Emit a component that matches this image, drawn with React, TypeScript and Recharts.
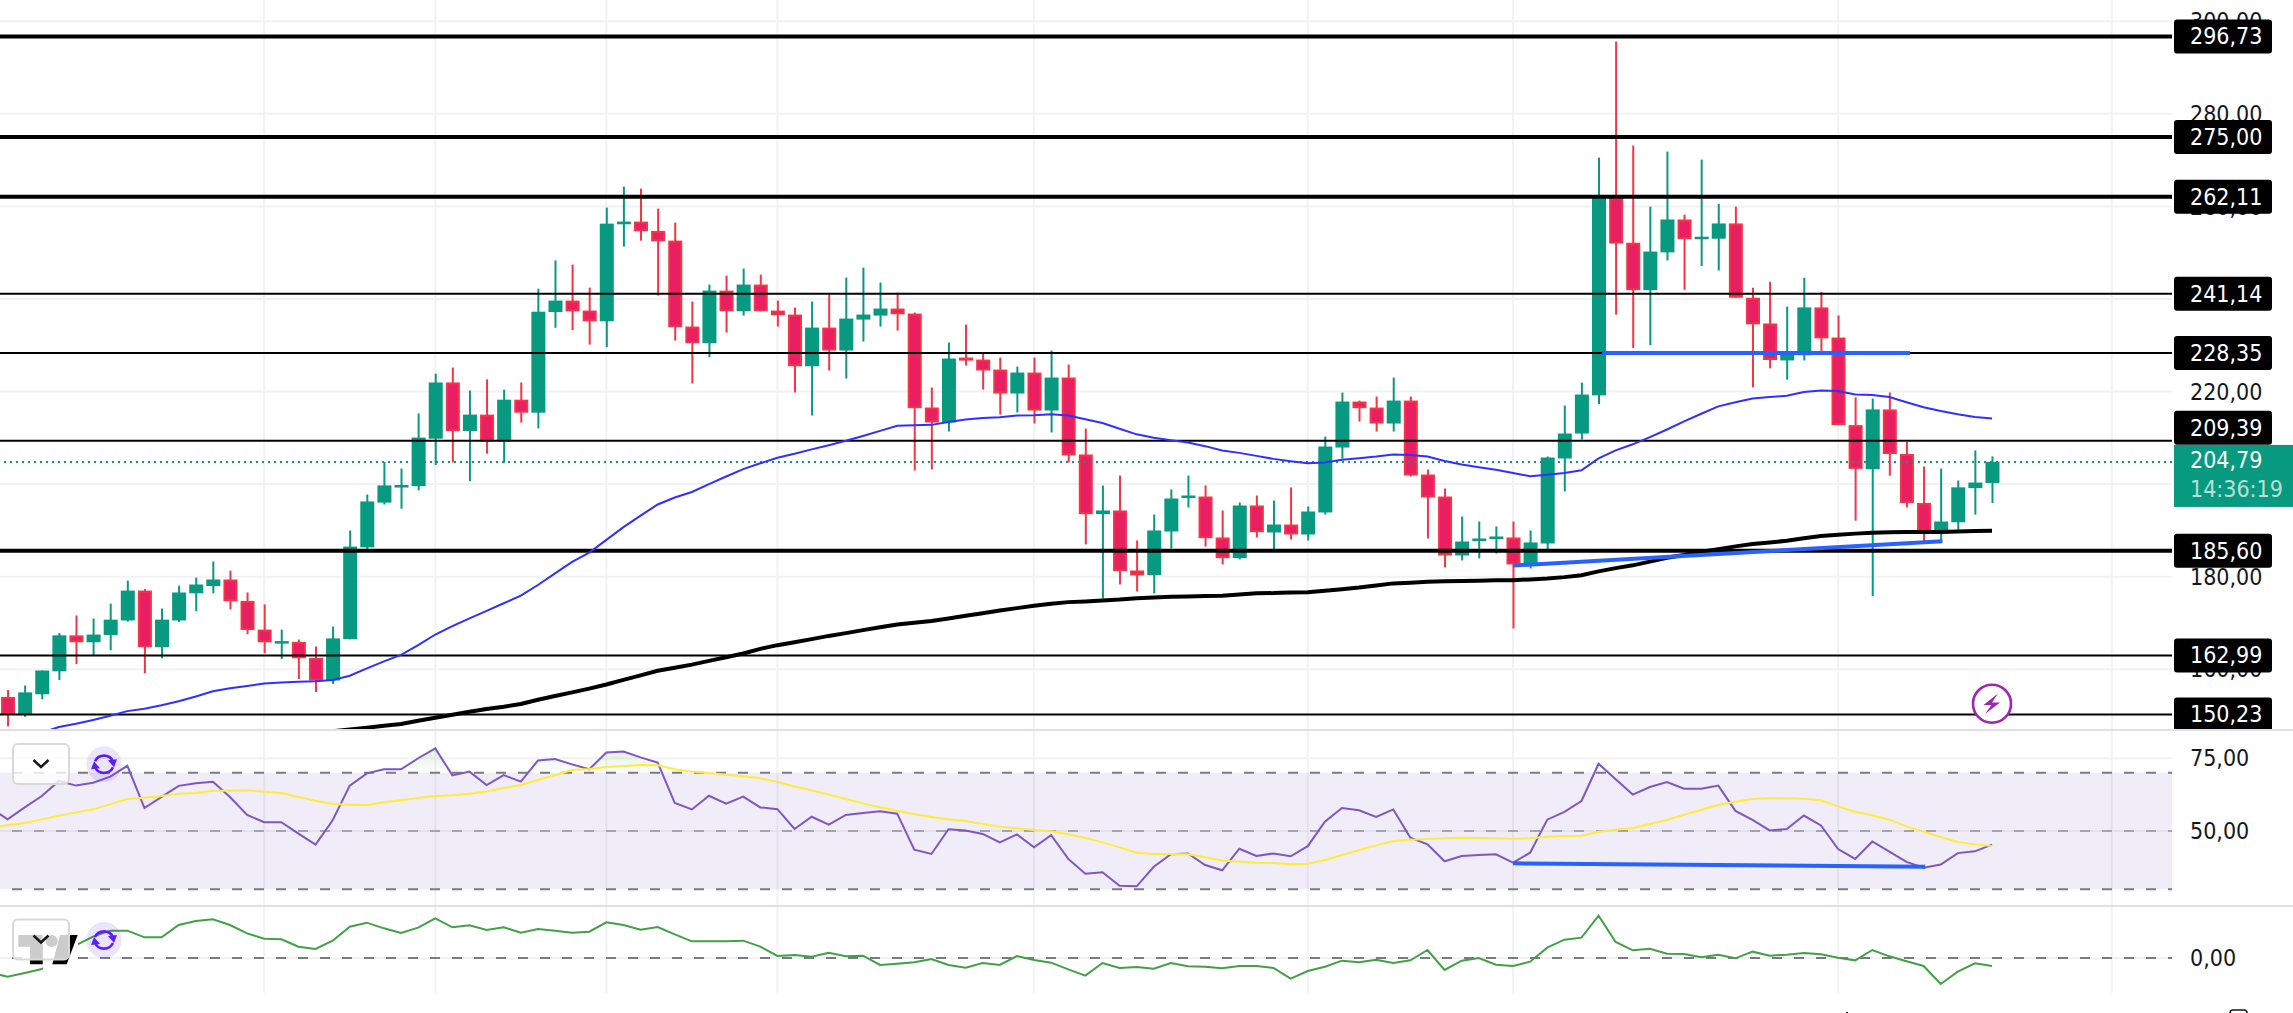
import React from 'react';
import {
  Area,
  Bar,
  CartesianGrid,
  ComposedChart,
  Line,
  ReferenceArea,
  ReferenceLine,
  XAxis,
  YAxis,
} from 'recharts';

const open = [
  154.01, 150.29, 154.59, 159.55, 167.32, 165.83, 167.4, 170.54, 176.99, 164.76, 170.54, 176.41, 177.98, 179.39, 174.76, 168.56, 165.91, 165.91, 162.44, 157.56,
  166.49, 186.33, 196.0, 199.56, 199.56, 209.81, 221.96, 211.46, 215.01, 209.23, 218.24, 215.43, 237.17, 239.65, 237.5, 235.19, 256.14, 256.72, 254.7, 252.61,
  234.04, 230.44, 241.81, 237.35, 243.11, 237.49, 236.63, 225.47, 233.82, 228.86, 235.55, 236.41, 237.93, 236.85, 216.55, 213.31, 227.34, 226.91, 224.75, 219.57,
  224.1, 215.9, 223.03, 206.4, 193.51, 194.3, 181.34, 180.33, 189.76, 197.11, 197.32, 188.47, 184.0, 195.38, 189.55, 191.27, 189.11, 193.87, 207.9, 217.84,
  216.54, 213.09, 218.05, 202.07, 197.32, 184.58, 187.89, 188.32, 188.47, 182.64, 187.17, 205.53, 210.93, 219.17, 261.87, 252.15, 241.91, 250.07, 257.18, 253.1,
  253.02, 256.32, 240.26, 234.71, 226.72, 227.85, 238.18, 231.67, 212.75, 203.21, 216.14, 206.5, 195.92, 189.32, 191.75, 199.13, 200.25,
];
const high = [
  155.5, 156.49, 159.72, 167.82, 171.62, 170.96, 174.18, 179.14, 177.32, 173.11, 178.07, 179.8, 183.27, 181.29, 176.58, 174.01, 168.56, 166.41, 164.92, 169.22,
  189.97, 197.74, 204.77, 203.36, 215.26, 223.86, 225.18, 220.22, 222.62, 220.39, 221.96, 242.21, 248.33, 247.42, 242.46, 259.74, 264.27, 263.84, 259.52, 256.5,
  239.44, 243.11, 245.05, 246.57, 245.27, 239.65, 238.14, 239.44, 240.95, 244.62, 246.78, 243.54, 241.38, 237.06, 220.87, 230.58, 234.47, 228.42, 227.34, 225.4,
  227.34, 228.86, 225.83, 212.01, 199.7, 201.86, 187.82, 193.43, 198.83, 201.86, 199.7, 194.3, 196.03, 197.54, 196.46, 199.27, 195.16, 210.28, 219.78, 218.05,
  218.92, 223.02, 218.92, 203.15, 199.05, 193.0, 191.92, 190.84, 191.92, 189.98, 205.96, 216.97, 221.94, 270.55, 295.63, 273.15, 259.96, 271.85, 258.22, 270.11,
  260.57, 259.96, 242.43, 243.73, 238.35, 244.6, 241.56, 236.44, 218.74, 218.48, 219.78, 209.11, 203.81, 203.38, 200.78, 207.28, 205.98,
];
const low = [
  147.65, 149.71, 153.52, 157.65, 161.12, 163.02, 164.1, 170.29, 159.14, 162.36, 170.21, 172.53, 176.41, 172.94, 167.57, 163.43, 162.19, 157.89, 155.08, 156.82,
  166.49, 185.75, 195.59, 194.68, 198.65, 204.1, 204.68, 200.63, 206.58, 204.6, 213.28, 212.04, 233.78, 233.28, 230.14, 229.58, 251.32, 252.61, 240.73, 231.02,
  221.73, 227.42, 232.74, 236.41, 237.35, 234.04, 219.79, 214.82, 224.54, 222.81, 230.8, 234.04, 233.17, 202.94, 203.16, 211.36, 225.62, 220.43, 215.03, 215.47,
  213.09, 211.15, 204.67, 186.96, 175.29, 178.32, 176.81, 176.37, 186.09, 194.95, 186.52, 182.64, 183.72, 188.47, 185.87, 188.03, 187.82, 193.43, 205.53, 213.52,
  211.36, 211.36, 201.64, 188.25, 181.99, 183.5, 183.93, 185.01, 168.81, 181.77, 185.66, 198.4, 209.63, 217.27, 236.62, 229.41, 230.02, 248.33, 242.0, 247.12,
  246.16, 240.26, 220.91, 225.01, 222.56, 226.72, 228.2, 212.75, 192.1, 175.79, 201.82, 194.96, 187.5, 187.76, 189.84, 193.4, 195.92,
];
const close = [
  150.29, 155.0, 159.72, 167.32, 165.83, 167.49, 170.71, 176.99, 164.76, 170.71, 176.58, 178.31, 179.39, 174.68, 168.48, 165.83, 166.08, 162.36, 157.56, 166.66,
  186.5, 196.25, 199.72, 199.8, 210.05, 221.96, 211.46, 215.01, 209.23, 218.24, 215.43, 237.25, 239.65, 237.33, 235.18, 256.28, 256.72, 254.63, 252.47, 233.89,
  230.44, 241.81, 237.35, 243.11, 237.35, 236.49, 225.47, 233.82, 228.86, 235.77, 236.63, 237.93, 236.7, 216.4, 213.31, 227.13, 226.91, 224.54, 219.57, 224.1,
  215.9, 223.03, 206.18, 193.51, 194.3, 181.2, 180.26, 189.98, 196.89, 197.54, 188.32, 184.0, 195.38, 189.62, 191.27, 189.11, 194.08, 208.12, 217.84, 216.4,
  213.09, 218.05, 201.86, 197.11, 184.58, 187.6, 188.25, 188.68, 182.64, 187.39, 205.75, 210.93, 219.35, 261.96, 251.98, 241.91, 250.24, 257.18, 252.93, 253.45,
  256.32, 240.26, 234.53, 226.81, 228.11, 238.18, 231.5, 212.75, 203.29, 216.14, 206.5, 195.92, 189.41, 191.92, 199.3, 200.34, 204.79,
];

const ma50 = [
  null, null, 146.3, 147.5, 148.2, 149.05, 149.96, 150.95, 151.45, 152.2, 153.1, 154.1, 155.25, 155.9, 156.4, 156.9, 157.15, 157.3, 157.4, 157.65,
  158.6, 160.2, 161.7, 163.1, 165.2, 167.5, 169.3, 171.0, 172.6, 174.25, 175.9, 178.2, 180.7, 183.2, 185.2, 187.95, 190.7, 193.2, 195.6, 197.1,
  198.3, 200.0, 201.65, 203.25, 204.5, 205.7, 206.55, 207.5, 208.4, 209.35, 210.4, 211.5, 212.6, 212.7, 212.8, 213.4, 213.95, 214.3, 214.45, 214.8,
  214.9, 215.1, 214.8, 214.0, 213.2, 211.95, 210.75, 210.0, 209.5, 209.0, 208.2, 207.25, 206.75, 206.1, 205.45, 204.95, 204.5, 204.65, 205.25, 205.6,
  205.95, 206.4, 206.3, 205.95, 205.0, 204.25, 203.65, 203.1, 202.4, 201.7, 202.0, 202.4, 203.0, 205.55, 207.3, 208.6, 210.15, 211.8, 213.55, 215.2,
  216.8, 217.7, 218.5, 218.8, 219.1, 219.9, 220.2, 220.1, 219.35, 219.25, 218.8, 217.7, 216.6, 215.8, 215.1, 214.5, 214.15,
];
const ma200 = [
  null, null, null, null, null, null, null, null, null, null, null, null, null, null, null, null, null, null, null, 146.6,
  147.0, 147.36, 147.8, 148.15, 148.87, 149.5, 150.16, 150.8, 151.4, 151.9, 152.5, 153.4, 154.2, 155.0, 155.8, 156.7, 157.7, 158.66, 159.67, 160.3,
  161.0, 161.8, 162.6, 163.4, 164.4, 165.2, 165.85, 166.5, 167.2, 167.8, 168.45, 169.05, 169.65, 170.05, 170.4, 170.95, 171.55, 172.1, 172.7, 173.2,
  173.7, 174.15, 174.5, 174.65, 174.85, 175.05, 175.35, 175.5, 175.65, 175.7, 175.8, 175.9, 176.15, 176.4, 176.45, 176.6, 176.65, 176.95, 177.3, 177.65,
  178.1, 178.55, 178.7, 178.9, 179.0, 179.05, 179.1, 179.2, 179.25, 179.4, 179.6, 179.9, 180.3, 181.15, 181.85, 182.45, 183.25, 184.1, 184.7, 185.4,
  185.95, 186.55, 187.05, 187.4, 187.75, 188.3, 188.8, 189.05, 189.3, 189.5, 189.6, 189.65, 189.65, 189.65, 189.75, 189.85, 189.9,
];

const rsi = [
  54.0, 58.1, 62.0, 67.2, 65.6, 66.6, 68.7, 72.4, 57.9, 61.7, 65.5, 66.4, 66.95, 61.7, 55.5, 53.0, 53.0, 49.1, 45.3, 53.7,
  65.6, 69.8, 71.2, 71.2, 75.0, 78.4, 69.1, 70.4, 65.8, 69.2, 66.95, 74.2, 74.7, 72.9, 71.2, 77.0, 77.3, 75.3, 73.5, 59.6,
  57.4, 62.1, 59.4, 61.8, 58.1, 57.5, 50.7, 54.9, 52.2, 55.5, 56.2, 56.75, 55.95, 43.6, 42.1, 50.6, 50.2, 49.0, 46.1, 48.85,
  44.4, 48.6, 40.4, 35.3, 35.8, 31.2, 31.0, 37.7, 42.0, 42.3, 38.3, 36.5, 43.9, 41.4, 42.3, 41.3, 44.8, 53.2, 57.9, 57.1,
  54.8, 57.4, 47.7, 45.4, 39.6, 41.4, 41.75, 42.0, 39.1, 42.55, 53.9, 56.6, 60.3, 73.1, 67.75, 62.5, 65.1, 66.8, 64.5, 64.5,
  65.6, 56.9, 53.8, 50.2, 50.7, 55.3, 51.9, 43.8, 40.4, 46.4, 42.9, 39.4, 37.4, 38.5, 42.4, 43.0, 45.3,
];
const rsiMa = [
  51.94, 52.74, 54.0, 55.26, 56.4, 57.44, 59.16, 61.0, 61.45, 62.0, 62.8, 63.05, 63.85, 63.85, 63.97, 63.5, 63.05, 61.7, 60.4, 59.27,
  59.04, 58.93, 59.85, 60.53, 61.3, 62.0, 62.25, 62.8, 63.6, 64.77, 65.8, 67.5, 69.24, 70.96, 71.3, 72.0, 72.33, 72.68, 72.56, 71.2,
  70.4, 69.93, 69.35, 68.8, 68.1, 66.95, 65.3, 63.97, 62.5, 61.0, 59.5, 58.13, 56.98, 55.72, 54.8, 54.0, 53.43, 52.4, 51.5, 50.9,
  50.34, 49.88, 48.85, 47.59, 46.1, 44.38, 42.55, 42.09, 42.09, 41.98, 40.95, 39.9, 39.45, 39.1, 39.0, 38.54, 38.77, 40.03, 41.75, 43.46,
  45.07, 46.56, 47.02, 47.25, 47.48, 47.7, 47.59, 47.48, 47.36, 47.48, 48.05, 48.28, 48.39, 49.77, 50.45, 51.03, 52.4, 53.8, 55.6, 57.3,
  58.93, 60.07, 61.0, 61.33, 61.22, 61.1, 60.53, 58.47, 56.64, 55.38, 53.89, 51.6, 49.77, 47.93, 46.2, 45.4, 44.84,
];
const oscillator = [
  -0.56, -0.45, -0.33, -0.01, 0.39, 0.64, 0.82, 0.82, 0.62, 0.62, 0.99, 1.11, 1.16, 0.99, 0.74, 0.58, 0.56, 0.34, 0.27, 0.52,
  0.94, 1.06, 0.89, 0.75, 0.91, 1.19, 0.92, 0.98, 0.84, 0.92, 0.76, 0.87, 0.82, 0.76, 0.79, 1.07, 0.99, 0.85, 0.93, 0.71,
  0.5, 0.5, 0.5, 0.52, 0.34, 0.06, 0.09, 0.04, 0.16, 0.05, 0.07, -0.21, -0.17, -0.13, -0.03, -0.21, -0.29, -0.15, -0.21, 0.06,
  -0.06, -0.14, -0.34, -0.53, -0.15, -0.3, -0.27, -0.32, -0.15, -0.25, -0.26, -0.31, -0.24, -0.24, -0.3, -0.62, -0.39, -0.26, -0.08, -0.13,
  -0.05, -0.15, -0.07, 0.24, -0.36, -0.08, 0.0, -0.2, -0.24, -0.11, 0.31, 0.55, 0.61, 1.27, 0.48, 0.23, 0.28, 0.13, 0.12, 0.02,
  0.1, -0.01, 0.19, 0.07, 0.1, 0.15, 0.11, 0.01, -0.07, 0.24, 0.05, -0.1, -0.24, -0.78, -0.41, -0.16, -0.24,
];

// one value left of the first candle, so the lower lines run off the page edge
const leadIn = { i: -1, rsi: 57.9, rsiMa: 51.25, oscillator: -0.44, hot: [70, 70] };

const thickLevels = [296.73, 275, 262.11, 185.6];
const thinLevels = [241.14, 228.35, 209.39, 162.99, 150.23];
const lastPrice = 204.79;
const countdown = '14:36:19';

const priceTicks = [160, 180, 200, 220, 240, 260, 280, 300];
const rsiTicks = [50, 75];
const rsiDashes = [70, 50, 30];
const oscillatorTicks = [0];
const gridCandles = [15, 25, 35, 45, 60, 76, 88, 107, 123];

const priceTrends = [
  [{ i: 93.2, v: 228.35 }, { i: 111.2, v: 228.35 }],
  [{ i: 88, v: 182.4 }, { i: 113.1, v: 187.67 }],
];
const rsiTrend = [{ i: 88, v: 38.9 }, { i: 112.1, v: 37.73 }];

const rows = open.map((o, i) => ({
  i,
  open: o,
  high: high[i],
  low: low[i],
  close: close[i],
  range: [low[i], high[i]],
  ma50: ma50[i],
  ma200: ma200[i],
  rsi: rsi[i],
  rsiMa: rsiMa[i],
  oscillator: oscillator[i],
  hot: [70, Math.max(70, rsi[i])],
}));
const paneRows = [leadIn, ...rows];

const WIDTH = 2293;
const AXIS_WIDTH = 121;
const FONT = '"DejaVu Sans", sans-serif';
const FONT_SIZE = 23;
const GREEN = '#089981';
const RED_BODY = '#e91e63';
const RED = '#f23645';
const GRID = '#f1f2f5';
const xDomain = [-0.4443, 126.52];
const priceDomain = [146.87, 304.6];

const money = (v: number) => v.toFixed(2).replace('.', ',');

const Candle = (props: any) => {
  const { x, y, width, height, payload } = props;
  if (!payload || !payload.range) return null;
  const up = payload.close >= payload.open;
  const perUnit = height / (payload.high - payload.low);
  const top = y + (payload.high - Math.max(payload.open, payload.close)) * perUnit;
  const bodyH = Math.max(Math.abs(payload.close - payload.open) * perUnit, 2.5);
  const cx = x + width / 2;
  return (
    <g>
      <rect x={cx - 1} y={y} width={2} height={height} fill={up ? GREEN : RED} />
      {up ? (
        <rect x={x} y={top} width={width} height={bodyH} fill={GREEN} />
      ) : (
        <rect x={x + 1} y={top + 1} width={width - 2} height={Math.max(bodyH - 2, 1)} fill={RED_BODY} stroke={RED} strokeWidth={2} />
      )}
    </g>
  );
};

const labelStyle = { fontStretch: 'condensed' } as React.CSSProperties;

const LevelTag = ({ viewBox, value, shift = 0 }: any) => {
  const right = viewBox.x + viewBox.width;
  const cy = viewBox.y + shift;
  return (
    <g>
      <rect x={right + 2} y={cy - 17} width={98} height={34} rx={3} fill="#000" />
      <text x={right + 18} y={cy + 8} fill="#fff" fontFamily={FONT} fontSize={FONT_SIZE} style={labelStyle}>
        {money(value)}
      </text>
    </g>
  );
};

const LastPriceTag = ({ viewBox }: any) => {
  const right = viewBox.x + viewBox.width;
  const cy = viewBox.y;
  return (
    <g>
      <rect x={right + 2} y={cy - 17} width={119} height={62} fill={GREEN} />
      <text x={right + 18} y={cy + 6} fill="#fff" fontFamily={FONT} fontSize={FONT_SIZE} style={labelStyle}>
        {money(lastPrice)}
      </text>
      <text x={right + 18} y={cy + 35} fill="#b5e0d6" fontFamily={FONT} fontSize={FONT_SIZE} style={labelStyle}>
        {countdown}
      </text>
    </g>
  );
};

const axisTick = { fill: '#131722', fontFamily: FONT, fontSize: FONT_SIZE, style: labelStyle };

const SyncIcon = ({ cy }: { cy: number }) => (
  <g transform={`translate(104 ${cy})`}>
    <ellipse rx={17.5} ry={18} fill="#5b1fff" fillOpacity={0.12} />
    <path d="M-9 -3 A10 10 0 0 1 9 -3" fill="none" stroke="#5b1fff" strokeWidth={2.6} />
    <path d="M9 3 A10 10 0 0 1 -9 3" fill="none" stroke="#5b1fff" strokeWidth={2.6} />
    <path d="M4 -4 L13 -5 L10 3 Z" fill="#5b1fff" />
    <path d="M-4 4 L-13 5 L-10 -3 Z" fill="#5b1fff" />
  </g>
);

const Chevron = ({ top }: { top: number }) => (
  <g>
    <rect x={13} y={top} width={56} height={40} rx={5} fill="rgba(255,255,255,0.8)" stroke="#d9d9d9" strokeWidth={2} />
    <path d={`M33.5 ${top + 16} L41 ${top + 23} L48.5 ${top + 16}`} fill="none" stroke="#131722" strokeWidth={2.5} />
  </g>
);

const Overlay = () => (
  <svg width={WIDTH} height={1013} style={{ position: 'absolute', left: 0, top: 0, pointerEvents: 'none' }}>
    <rect x={0} y={729} width={WIDTH} height={2} fill="#e0e0ec" />
    <rect x={0} y={905} width={WIDTH} height={2} fill="#e0e0ec" />

    <rect x={43} y={932} width={35} height={38} fill="#fff" />
    <path d="M18.3 935 H42.7 V964.3 H30 V946.7 H18.3 Z" fill="#000" />
    <circle cx={51.7} cy={941} r={6} fill="#000" />
    <path d="M60 935 H77.7 L66.7 964.3 H52.3 Z" fill="#000" />

    <Chevron top={744} />
    <Chevron top={919.5} />
    <SyncIcon cy={764.3} />
    <SyncIcon cy={940} />

    <circle cx={1992} cy={703.7} r={19} fill="#fff" stroke="#9c27b0" strokeWidth={2.6} />
    <path d="M1998 693.5 L1983.5 705 L1991.5 705 L1985 714 L2000 702.5 L1992 702.5 Z" fill="#9c27b0" />

    <rect x={2230} y={1010} width={17} height={8} rx={3} fill="none" stroke="#131722" strokeWidth={1.5} />
    <rect x={1846} y={1012} width={2} height={1} fill="#131722" />
  </svg>
);

export default function App() {
  return (
    <div style={{ position: 'absolute', left: 0, top: 0, width: WIDTH, height: 1013, background: '#fff', overflow: 'hidden' }}>
      <div style={{ position: 'absolute', left: 0, top: 0 }}>
        <ComposedChart width={WIDTH} height={730} data={rows} margin={{ top: 0, right: 0, bottom: 0, left: 0 }}>
          <CartesianGrid stroke={GRID} strokeWidth={2} horizontalValues={priceTicks} verticalValues={gridCandles} />
          <XAxis dataKey="i" type="number" domain={xDomain} allowDataOverflow hide />
          <YAxis
            orientation="right"
            width={AXIS_WIDTH}
            domain={priceDomain}
            allowDataOverflow
            ticks={priceTicks}
            interval={0}
            tickFormatter={money}
            tick={axisTick}
            tickSize={0}
            tickMargin={18}
            axisLine={false}
          />
          {thickLevels.map((v) => (
            <ReferenceLine key={v} y={v} stroke="#000" strokeWidth={4} />
          ))}
          {thinLevels.map((v) => (
            <ReferenceLine key={v} y={v} stroke="#000" strokeWidth={2} />
          ))}
          <ReferenceLine y={lastPrice} stroke={GREEN} strokeWidth={2} strokeDasharray="2 4" />
          <Line dataKey="ma50" stroke="#3030ff" strokeWidth={2} dot={false} activeDot={false} isAnimationActive={false} />
          <Line dataKey="ma200" stroke="#000" strokeWidth={4} dot={false} activeDot={false} isAnimationActive={false} />
          {priceTrends.map((t) => (
            <ReferenceLine
              key={t[0].i}
              segment={[{ x: t[0].i, y: t[0].v }, { x: t[1].i, y: t[1].v }]}
              stroke="#2962ff"
              strokeWidth={4}
            />
          ))}
          <Bar dataKey="range" barSize={14} shape={Candle} isAnimationActive={false} />
        </ComposedChart>
      </div>

      {/* the price tags sit in their own chart so they cover the axis labels, as in the terminal */}
      <div style={{ position: 'absolute', left: 0, top: 0 }}>
        <ComposedChart width={WIDTH} height={730} data={rows} margin={{ top: 0, right: AXIS_WIDTH, bottom: 0, left: 0 }}>
          <XAxis dataKey="i" type="number" domain={xDomain} allowDataOverflow hide />
          <YAxis domain={priceDomain} allowDataOverflow hide />
          {thickLevels.map((v) => (
            <ReferenceLine key={v} y={v} stroke="none" label={<LevelTag value={v} />} />
          ))}
          {thinLevels.map((v) => (
            <ReferenceLine key={v} y={v} stroke="none" label={<LevelTag value={v} shift={v === 209.39 ? -13 : 0} />} />
          ))}
          <ReferenceLine y={lastPrice} stroke="none" label={<LastPriceTag />} />
        </ComposedChart>
      </div>

      <div style={{ position: 'absolute', left: 0, top: 731 }}>
        <ComposedChart width={WIDTH} height={174} data={paneRows} margin={{ top: 0, right: 0, bottom: 0, left: 0 }}>
          <defs>
            <linearGradient id="hotFill" x1="0" y1="0" x2="0" y2="1">
              <stop offset="0%" stopColor="#4caf50" stopOpacity={0.28} />
              <stop offset="100%" stopColor="#4caf50" stopOpacity={0.02} />
            </linearGradient>
          </defs>
          <CartesianGrid stroke={GRID} strokeWidth={2} horizontalValues={rsiTicks} verticalValues={gridCandles} />
          <XAxis dataKey="i" type="number" domain={xDomain} allowDataOverflow hide />
          <YAxis
            orientation="right"
            width={AXIS_WIDTH}
            domain={[24.57, 84.36]}
            allowDataOverflow
            ticks={rsiTicks}
            interval={0}
            tickFormatter={money}
            tick={axisTick}
            tickSize={0}
            tickMargin={18}
            axisLine={false}
          />
          <ReferenceArea y1={30} y2={70} fill="#7e57c2" fillOpacity={0.11} stroke="none" />
          {rsiDashes.map((v) => (
            <ReferenceLine
              key={v}
              y={v}
              stroke={v === 50 ? '#a3a3ad' : '#787b86'}
              strokeWidth={2}
              strokeDasharray="10 12"
              strokeDashoffset={6}
            />
          ))}
          <Area dataKey="hot" stroke="none" fill="url(#hotFill)" dot={false} activeDot={false} isAnimationActive={false} />
          <Line dataKey="rsi" stroke="#7e57c2" strokeWidth={2} dot={false} activeDot={false} isAnimationActive={false} />
          <Line dataKey="rsiMa" stroke="#ffeb3b" strokeWidth={2} dot={false} activeDot={false} isAnimationActive={false} />
          <ReferenceLine
            segment={[{ x: rsiTrend[0].i, y: rsiTrend[0].v }, { x: rsiTrend[1].i, y: rsiTrend[1].v }]}
            stroke="#2962ff"
            strokeWidth={4}
          />
        </ComposedChart>
      </div>

      <div style={{ position: 'absolute', left: 0, top: 907 }}>
        <ComposedChart width={WIDTH} height={86} data={paneRows} margin={{ top: 0, right: 0, bottom: 0, left: 0 }}>
          <CartesianGrid stroke={GRID} strokeWidth={2} horizontalValues={oscillatorTicks} verticalValues={gridCandles} />
          <XAxis dataKey="i" type="number" domain={xDomain} allowDataOverflow hide />
          <YAxis
            orientation="right"
            width={AXIS_WIDTH}
            domain={[-1.05, 1.53]}
            allowDataOverflow
            ticks={oscillatorTicks}
            interval={0}
            tickFormatter={money}
            tick={axisTick}
            tickSize={0}
            tickMargin={18}
            axisLine={false}
          />
          <ReferenceLine y={0} stroke="#787b86" strokeWidth={2} strokeDasharray="10 12" strokeDashoffset={6} />
          <Line dataKey="oscillator" stroke="#43a047" strokeWidth={2} dot={false} activeDot={false} isAnimationActive={false} />
        </ComposedChart>
      </div>

      <Overlay />
    </div>
  );
}
